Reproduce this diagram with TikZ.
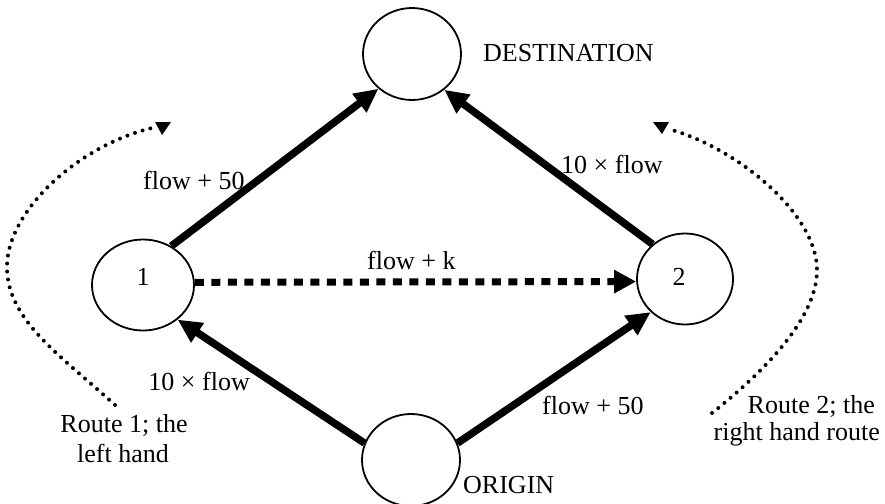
\documentclass[tikz,border=0pt]{standalone}
\usepackage{fontspec}
\setmainfont{Liberation Serif}
\usetikzlibrary{arrows.meta,shapes.geometric}
\tikzset{
  circ/.style={draw, ellipse, line width=1.8pt, inner sep=0pt},
  thick arrow/.style={line width=7.5pt, -{Triangle[length=24pt,width=22pt]}},
  dash arrow/.style={line width=7pt, dash pattern=on 9pt off 7.5pt, -{Triangle[length=22pt,width=22pt]}},
  dotline/.style={line width=4pt, line cap=round, dash pattern=on 0pt off 8pt},
  lbl/.style={font=\fontsize{26}{30}\selectfont, inner sep=0pt},
}
\begin{document}
\begin{tikzpicture}[x=1pt,y=-1pt]
\useasboundingbox (0,0) rectangle (885,503);
% nodes
\node[circ, minimum width=98pt, minimum height=92pt] (dest) at (412,54) {};
\node[circ, minimum width=102pt, minimum height=91pt] (n1) at (143,285) {};
\node[circ, minimum width=96pt, minimum height=91pt] (n2) at (685,279) {};
\node[circ, minimum width=98pt, minimum height=92pt] (orig) at (411,460) {};
% node texts
\node[lbl, anchor=base] (t1) at (143,285) {1};
\node[lbl, anchor=base] (t2) at (679,285) {2};
\node[lbl, anchor=base west] (tdest) at (483,62) {DESTINATION};
\node[lbl, anchor=base west] (torig) at (463,493) {ORIGIN};
% connectors
\draw[thick arrow] (n1.54.6) -- (dest.226.6);
\draw[thick arrow] (n2.133.3) -- (dest.312);
\draw[thick arrow] (orig.160) -- (n1.315);
\draw[thick arrow] (orig.20) -- (n2.224);
\draw[dash arrow] (n1.3.4) -- (n2.183.6);
% edge labels
\node[lbl, anchor=base west] (l1) at (143,189) {flow + 50};
\node[lbl, anchor=base west] (l2) at (561,173) {10 × flow};
\node[lbl, anchor=base west] (l3) at (367,269) {flow + k};
\node[lbl, anchor=base east] (l4) at (250,390) {10 × flow};
\node[lbl, anchor=base west] (l5) at (542,414) {flow + 50};
% route annotations
\coordinate (ls) at (115,405);
\coordinate (lm) at (7,267);
\coordinate (le) at (152,128);
\draw[dotline] (ls) .. controls (60,355) and (7,320) .. (lm)
                    .. controls (7,210) and (80,145) .. (le);
\fill (155,122) -- (171,122) -- (162,135) -- cycle;
\coordinate (rs) at (712,413);
\coordinate (rm) at (817,270);
\coordinate (re) at (672,130);
\draw[dotline] (rs) .. controls (760,375) and (817,320) .. (rm)
                    .. controls (817,215) and (740,150) .. (re);
\fill (653,122) -- (669,122) -- (662,134) -- cycle;
\node[lbl, anchor=base] (r1a) at (124,432) {Route 1; the};
\node[lbl, anchor=base] (r1b) at (123,462) {left hand};
\node[lbl, anchor=base east] (r2a) at (875,413) {Route 2; the};
\node[lbl, anchor=base east] (r2b) at (880,440) {right hand route};
\end{tikzpicture}
\end{document}
